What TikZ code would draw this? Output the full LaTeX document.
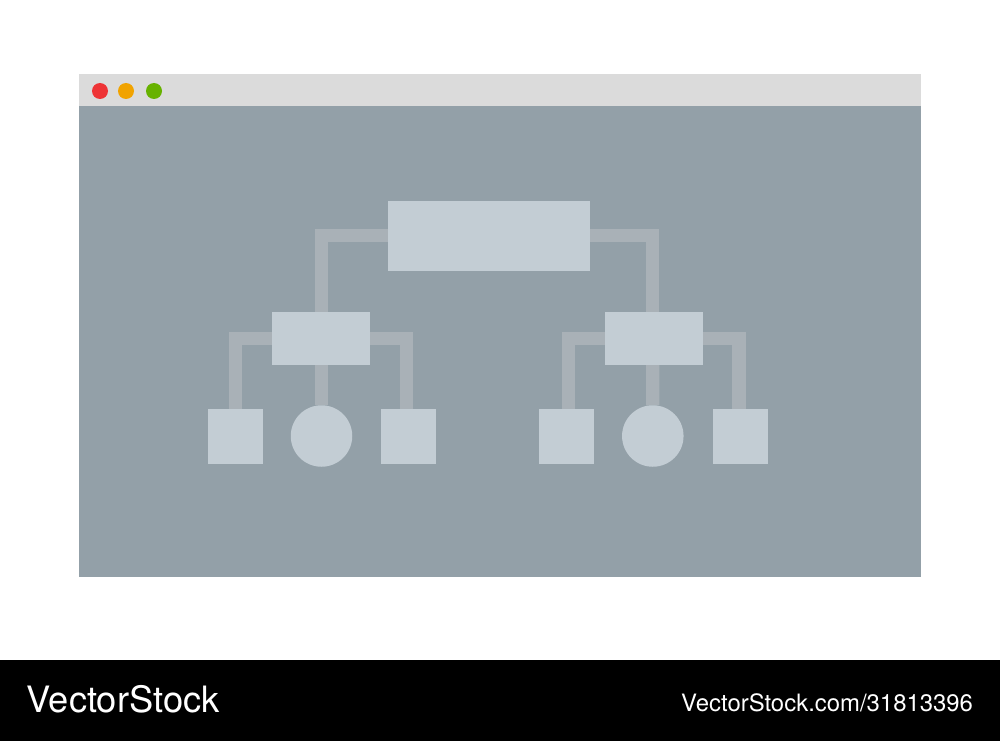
\documentclass[tikz,border=0pt]{standalone}
\usepackage{fontspec}
\setmainfont{TeX Gyre Heros}
\usetikzlibrary{backgrounds}
\definecolor{winbody}{RGB}{147,160,168}
\definecolor{winbar}{RGB}{219,219,219}
\definecolor{boxfill}{RGB}{195,205,212}
\definecolor{linkcol}{RGB}{169,177,183}
\definecolor{dotred}{RGB}{238,52,54}
\definecolor{dotorange}{RGB}{241,163,0}
\definecolor{dotgreen}{RGB}{103,178,0}
\begin{document}
\begin{tikzpicture}[x=1pt,y=-1pt,
  box/.style={fill=boxfill,draw=none,inner sep=0pt,outer sep=0pt,minimum width=#1},
  leaf/.style={fill=boxfill,draw=none,inner sep=0pt,outer sep=0pt,minimum width=55pt,minimum height=55pt},
  roundleaf/.style={circle,fill=boxfill,draw=none,inner sep=0pt,outer sep=0pt,minimum size=61.5pt},
  link/.style={draw=linkcol,line width=13.3pt,line join=miter,line cap=butt},
  dot/.style={circle,draw=none,inner sep=0pt,minimum size=16pt,fill=#1},
  wm/.style={text=white,inner sep=0pt,anchor=base west}]
\useasboundingbox (0,0) rectangle (1000,741);
% window and footer (background layer)
\begin{scope}[on background layer]
\fill[white] (0,0) rectangle (1000,741);
\fill[winbody] (79,106) rectangle (921,577);
\fill[winbar] (79,74) rectangle (921,106);
\fill[black] (0,660) rectangle (1000,741);
\end{scope}
\node[dot=dotred] (d1) at (100,91) {};
\node[dot=dotorange] (d2) at (126,91) {};
\node[dot=dotgreen] (d3) at (154,91) {};
% nodes
\node[box=202pt,minimum height=70pt] (top) at (489,235.7) {};
\node[box=98pt,minimum height=53pt] (ml) at (321,338.3) {};
\node[box=98pt,minimum height=53pt] (mr) at (654,338.3) {};
\node[leaf] (l1) at (235.5,436) {};
\node[roundleaf] (l2) at (321.5,436) {};
\node[leaf] (l3) at (408.3,436) {};
\node[leaf] (r1) at (566,436) {};
\node[roundleaf] (r2) at (652.8,436) {};
\node[leaf] (r3) at (740.5,436) {};
% connectors, kept behind the nodes
\begin{scope}[on background layer]
\draw[link] (top.west) -| ([xshift=0.5pt]ml.north);
\draw[link] (top.east) -| ([xshift=-1.3pt]mr.north);
\draw[link] (ml.west) -| (l1.north);
\draw[link] (ml.east) -| ([xshift=-1.8pt]l3.north);
\draw[link] ([xshift=0.5pt]ml.south) -- (l2.north);
\draw[link] (mr.west) -| ([xshift=2.3pt]r1.north);
\draw[link] (mr.east) -| ([xshift=-1.5pt]r3.north);
\draw[link] ([xshift=-1.3pt]mr.south) -- (r2.north);
\end{scope}
% footer text
\node[wm,font=\fontsize{36.3}{40}\selectfont] (brand) at (26.5,712.7) {VectorStock};
\node[wm,font=\fontsize{23.9}{28}\selectfont] (url) at (681,711.7) {VectorStock.com/31813396};
\end{tikzpicture}
\end{document}
